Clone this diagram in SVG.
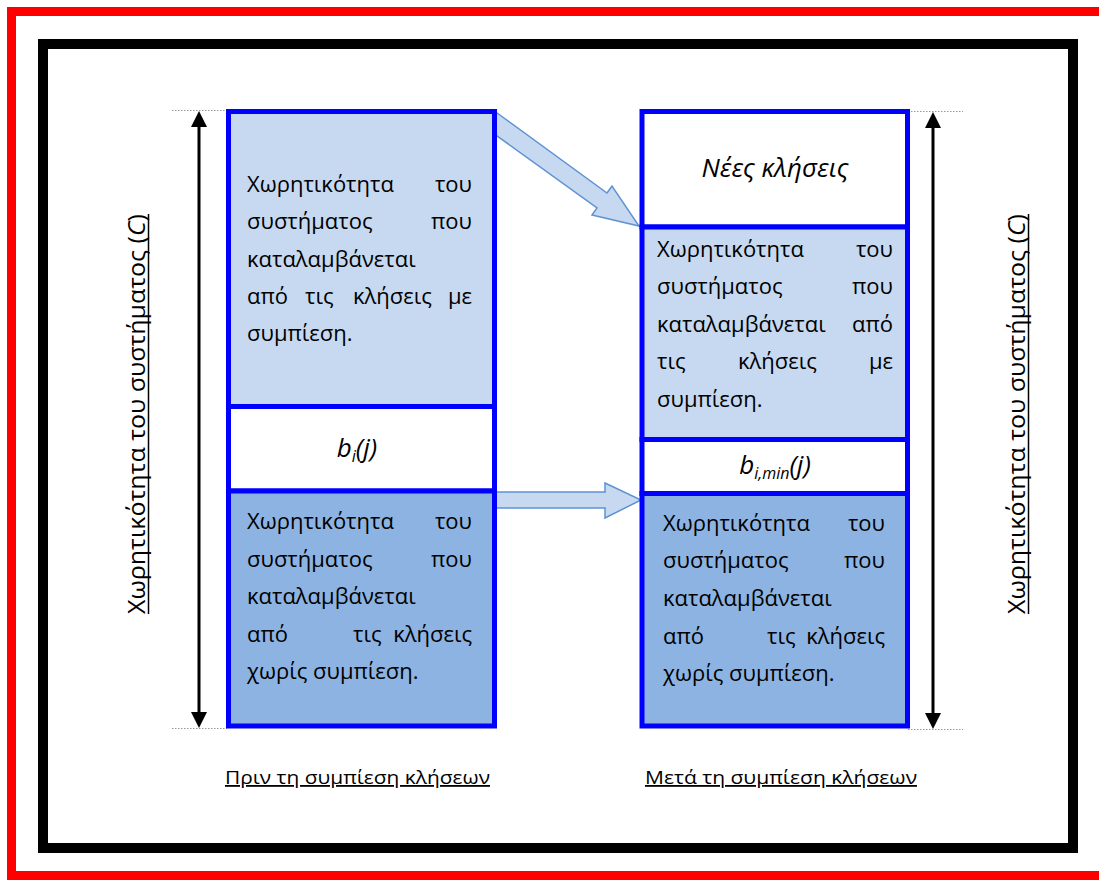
<svg xmlns="http://www.w3.org/2000/svg" width="1099" height="882" viewBox="0 0 1099 882">
<style>
.t{font-family:"Open Sans","Noto Sans",sans-serif;font-size:22px;fill:#000}
.i{font-style:italic}
.big{font-size:26px}
.sub{font-size:16px}
.col{stroke:#0000ff;stroke-width:5}
.lb{fill:#c6d9f1}
.db{fill:#8db3e2}
.wh{fill:#ffffff}
.dot{stroke:#999;stroke-width:1;stroke-dasharray:1.5 1.5;fill:none}
.va{stroke:#000;stroke-width:3;fill:none}
.blk{fill:#c6d9f1;stroke:#5f92d2;stroke-width:1.5;stroke-linejoin:miter}
.lab{font-family:"Open Sans","Noto Sans",sans-serif;font-size:23px;fill:#000}
.ul{stroke:#000;stroke-width:1.5}
.cap{font-family:"Open Sans","Noto Sans",sans-serif;font-size:18px;fill:#000;text-decoration:underline}
</style>
<rect x="0" y="0" width="1099" height="882" fill="#fff"/>
<g id="frames">
<rect x="11.5" y="11.5" width="1110" height="864" fill="none" stroke="#ff0000" stroke-width="9"/>
<rect x="43" y="44" width="1030" height="804" fill="none" stroke="#000" stroke-width="10"/>
</g>
<g id="connectors">
<line class="dot" x1="172" y1="110.5" x2="227" y2="110.5"/>
<line class="dot" x1="172" y1="728.5" x2="227" y2="728.5"/>
<line class="dot" x1="908" y1="111.5" x2="963" y2="111.5"/>
<line class="dot" x1="908" y1="729.5" x2="963" y2="729.5"/>
<line class="va" x1="199" y1="127" x2="199" y2="712"/>
<path d="M199,111 L191,127 L207,127 Z" fill="#000"/>
<path d="M199,728 L191,712 L207,712 Z" fill="#000"/>
<line class="va" x1="933" y1="128" x2="933" y2="713"/>
<path d="M933,112 L925,128 L941,128 Z" fill="#000"/>
<path d="M933,729 L925,713 L941,713 Z" fill="#000"/>
<polygon class="blk" points="493,110 607,193 612,186 639,226 592,215 597,208 493,133"/>
<polygon class="blk" points="493,492 605,492 605,483 641,500 605,518 605,508 493,508"/>
</g>
<g id="left-column">
<rect class="lb col" x="228.5" y="111.5" width="266" height="295"/>
<rect class="wh col" x="228.5" y="406.5" width="266" height="84.5"/>
<rect class="db col" x="228.5" y="491" width="266" height="235"/>
<text class="t" x="247" y="192">Χωρητικότητα</text><text class="t" x="472" y="192" text-anchor="end">του</text>
<text class="t" x="247" y="229">συστήματος</text><text class="t" x="472" y="229" text-anchor="end">που</text>
<text class="t" x="247" y="267">καταλαμβάνεται</text>
<text class="t" x="247" y="304">από</text><text class="t" x="305" y="304">τις</text><text class="t" x="353" y="304">κλήσεις</text><text class="t" x="472" y="304" text-anchor="end">με</text>
<text class="t" x="247" y="341">συμπίεση.</text>
<text class="t i big" x="357" y="457" text-anchor="middle">b<tspan class="sub" dy="5">i</tspan><tspan dy="-5">(j)</tspan></text>
<text class="t" x="247" y="529">Χωρητικότητα</text><text class="t" x="472" y="529" text-anchor="end">του</text>
<text class="t" x="247" y="567">συστήματος</text><text class="t" x="472" y="567" text-anchor="end">που</text>
<text class="t" x="247" y="604">καταλαμβάνεται</text>
<text class="t" x="247" y="642">από</text><text class="t" x="353" y="642">τις</text><text class="t" x="472" y="642" text-anchor="end">κλήσεις</text>
<text class="t" x="247" y="679">χωρίς συμπίεση.</text>
</g>
<g id="right-column">
<rect class="wh col" x="642" y="111.5" width="265.5" height="115.5"/>
<rect class="lb col" x="642" y="227" width="265.5" height="212.5"/>
<rect class="wh col" x="642" y="439.5" width="265.5" height="54"/>
<rect class="db col" x="642" y="493.5" width="265.5" height="232.5"/>
<text class="t i big" x="775" y="177" text-anchor="middle">Νέες κλήσεις</text>
<text class="t" x="657" y="257">Χωρητικότητα</text><text class="t" x="893" y="257" text-anchor="end">του</text>
<text class="t" x="657" y="294">συστήματος</text><text class="t" x="893" y="294" text-anchor="end">που</text>
<text class="t" x="657" y="332">καταλαμβάνεται</text><text class="t" x="893" y="332" text-anchor="end">από</text>
<text class="t" x="657" y="369">τις</text><text class="t" x="738" y="369">κλήσεις</text><text class="t" x="893" y="369" text-anchor="end">με</text>
<text class="t" x="657" y="407">συμπίεση.</text>
<text class="t i big" x="775" y="474" text-anchor="middle">b<tspan class="sub" dy="5">i,min</tspan><tspan dy="-5">(j)</tspan></text>
<text class="t" x="663" y="531">Χωρητικότητα</text><text class="t" x="885" y="531" text-anchor="end">του</text>
<text class="t" x="663" y="568">συστήματος</text><text class="t" x="885" y="568" text-anchor="end">που</text>
<text class="t" x="663" y="606">καταλαμβάνεται</text>
<text class="t" x="663" y="644">από</text><text class="t" x="767" y="644">τις</text><text class="t" x="885" y="644" text-anchor="end">κλήσεις</text>
<text class="t" x="663" y="681">χωρίς συμπίεση.</text>
</g>
<g id="labels">
<text class="lab" transform="translate(145,414) rotate(-90)" text-anchor="middle" textLength="400" lengthAdjust="spacingAndGlyphs">Χωρητικότητα του συστήματος (<tspan font-style="italic">C</tspan>)</text>
<line class="ul" x1="148.5" y1="214" x2="148.5" y2="614"/>
<text class="lab" transform="translate(1025,414) rotate(-90)" text-anchor="middle" textLength="400" lengthAdjust="spacingAndGlyphs">Χωρητικότητα του συστήματος (<tspan font-style="italic">C</tspan>)</text>
<line class="ul" x1="1028.5" y1="214" x2="1028.5" y2="614"/>
<text class="cap" x="225" y="784" textLength="265" lengthAdjust="spacingAndGlyphs">Πριν τη συμπίεση κλήσεων</text>
<text class="cap" x="645" y="784" textLength="272" lengthAdjust="spacingAndGlyphs">Μετά τη συμπίεση κλήσεων</text>
</g>
</svg>
